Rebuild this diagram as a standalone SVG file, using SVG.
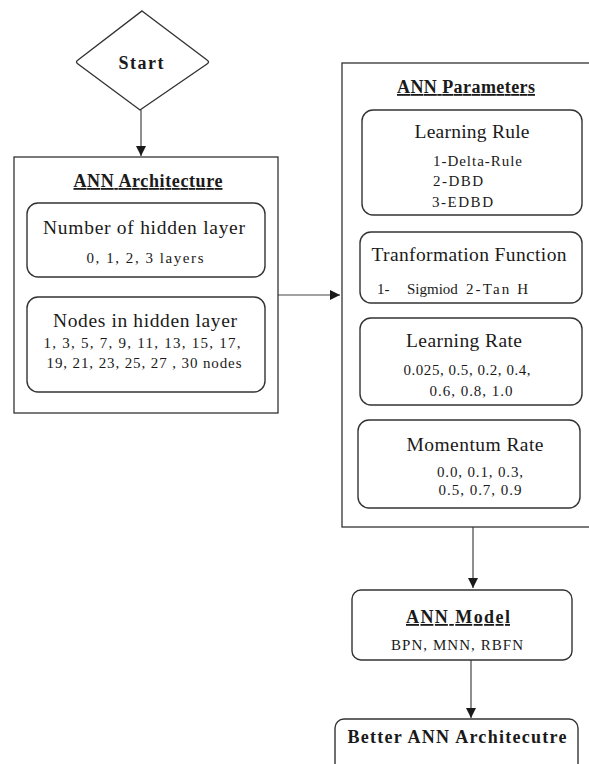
<svg xmlns="http://www.w3.org/2000/svg" width="589" height="764" viewBox="0 0 589 764">
<defs>
<marker id="ah" viewBox="0 0 10 10" refX="10" refY="5" markerWidth="10" markerHeight="10" markerUnits="userSpaceOnUse" orient="auto">
<path d="M0,0 L10,5 L0,10 Z" fill="#1a1a1a"/>
</marker>
</defs>
<style>
.box{fill:none;stroke:#333;stroke-width:1.3}
.rbox{fill:#fff;stroke:#333;stroke-width:1.4}
.edge{fill:none;stroke:#444;stroke-width:1.2}
text{font-family:"Liberation Serif","Times New Roman",serif;fill:#1a1a1a}
.h{font-size:19.5px;text-anchor:middle}
.s{font-size:15px}
.sc{font-size:15px;text-anchor:middle}
.b{font-weight:bold;font-size:18px;text-anchor:middle}
.u{text-decoration:underline}
</style>
<rect width="589" height="764" fill="#fff"/>

<g id="connectors">
<line class="edge" x1="141" y1="110" x2="141" y2="156" marker-end="url(#ah)"/>
<line class="edge" x1="278" y1="295" x2="340" y2="295" marker-end="url(#ah)"/>
<line class="edge" x1="473" y1="527" x2="473" y2="588" marker-end="url(#ah)"/>
<line class="edge" x1="471" y1="660" x2="471" y2="718" marker-end="url(#ah)"/>
</g>

<g id="start">
<path class="rbox" d="M142,11 L207,60 Q210,62 207,64 L140,110 L78,64 Q75,62 78,60 Z"/>
<text class="b" x="141" y="69" textLength="45" lengthAdjust="spacing" style="font-size:18px">Start</text>
</g>

<g id="ann-architecture">
<rect class="box" x="14" y="157" width="264" height="256"/>
<text class="b u" x="148" y="187" textLength="149" lengthAdjust="spacing">ANN Architecture</text>
</g>

<g id="hidden-layers">
<rect class="rbox" x="27" y="203" width="238" height="74" rx="11"/>
<text class="h" x="144" y="234" textLength="202" lengthAdjust="spacing">Number of hidden layer</text>
<text class="sc" x="145" y="263" textLength="117" lengthAdjust="spacing">0, 1, 2, 3 layers</text>
</g>

<g id="hidden-nodes">
<rect class="rbox" x="27" y="297" width="238" height="95" rx="11"/>
<text class="h" x="145" y="327" textLength="184" lengthAdjust="spacing">Nodes in hidden layer</text>
<text class="sc" x="142" y="348" textLength="197" lengthAdjust="spacing">1, 3, 5, 7, 9, 11, 13, 15, 17,</text>
<text class="sc" x="144" y="368" textLength="195" lengthAdjust="spacing">19, 21, 23, 25, 27 , 30 nodes</text>
</g>

<g id="ann-parameters">
<rect class="box" x="342" y="63" width="260" height="464"/>
<text class="b u" x="466" y="93" textLength="138" lengthAdjust="spacing">ANN Parameters</text>
</g>

<g id="learning-rule">
<rect class="rbox" x="362" y="110" width="220" height="105" rx="11"/>
<text class="h" x="472" y="138" textLength="115" lengthAdjust="spacing">Learning Rule</text>
<text class="s" x="433" y="166" textLength="89" lengthAdjust="spacing">1-Delta-Rule</text>
<text class="s" x="433" y="186" textLength="50" lengthAdjust="spacing">2-DBD</text>
<text class="s" x="432" y="207" textLength="61" lengthAdjust="spacing">3-EDBD</text>
</g>

<g id="transformation-function">
<rect class="rbox" x="360" y="232" width="222" height="71" rx="11"/>
<text class="h" x="469" y="261" textLength="195" lengthAdjust="spacing">Tranformation Function</text>
<text class="s" x="377" y="294">1-</text>
<text class="s" x="407" y="294">Sigmiod</text>
<text class="s" x="466" y="294" textLength="62" lengthAdjust="spacing">2-Tan H</text>
</g>

<g id="learning-rate">
<rect class="rbox" x="360" y="318" width="222" height="87" rx="11"/>
<text class="h" x="464" y="347" textLength="116" lengthAdjust="spacing">Learning Rate</text>
<text class="sc" x="467" y="375" textLength="127" lengthAdjust="spacing">0.025, 0.5, 0.2, 0.4,</text>
<text class="sc" x="471" y="396" textLength="83" lengthAdjust="spacing">0.6, 0.8, 1.0</text>
</g>

<g id="momentum-rate">
<rect class="rbox" x="358" y="420" width="222" height="88" rx="11"/>
<text class="h" x="475" y="451" textLength="137" lengthAdjust="spacing">Momentum Rate</text>
<text class="sc" x="480" y="477" textLength="86" lengthAdjust="spacing">0.0, 0.1, 0.3,</text>
<text class="sc" x="480" y="495" textLength="83" lengthAdjust="spacing">0.5, 0.7, 0.9</text>
</g>

<g id="ann-model">
<rect class="rbox" x="352" y="590" width="220" height="70" rx="9"/>
<text class="b u" x="458" y="623" textLength="104" lengthAdjust="spacing">ANN Model</text>
<text class="sc" x="457" y="650" textLength="132" lengthAdjust="spacing">BPN, MNN, RBFN</text>
</g>

<g id="better-architecture">
<rect class="rbox" x="335" y="719" width="243" height="55" rx="9"/>
<text class="b" x="457" y="743" textLength="219" lengthAdjust="spacing">Better ANN Architecutre</text>
</g>
</svg>
